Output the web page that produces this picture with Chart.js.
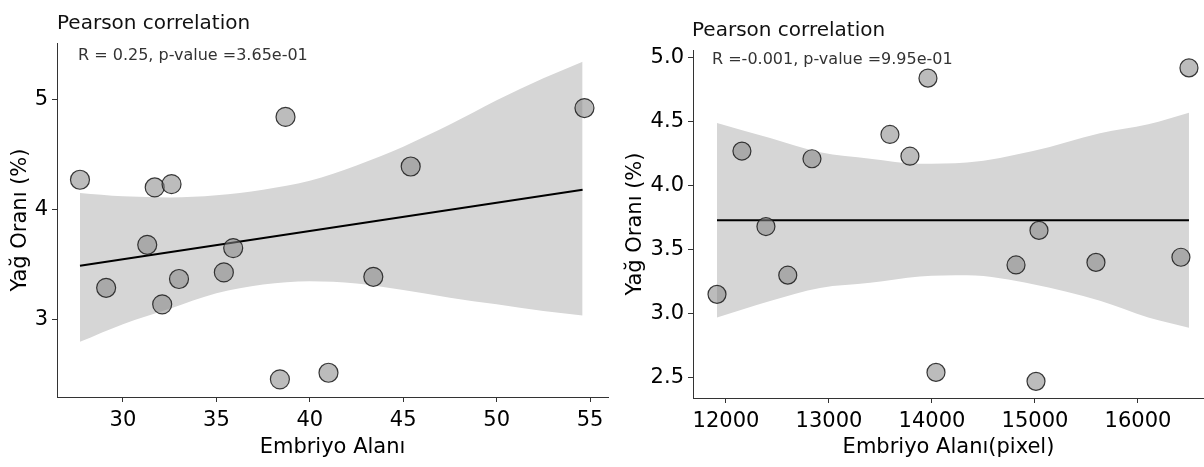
<!DOCTYPE html>
<html>
<head>
<meta charset="utf-8">
<script src="https://cdn.jsdelivr.net/npm/chart.js@4.4.0/dist/chart.umd.min.js"></script>
<style>
body{margin:0;background:#fff;width:1204px;height:467px;position:relative;overflow:hidden;font-family:'DejaVu Sans',sans-serif;}
canvas{position:absolute;top:0;}
#cLeft{left:0;}
#cRight{left:615px;}
.ttl{position:absolute;font-size:20px;line-height:20px;color:#111;white-space:nowrap;}
.ann{position:absolute;font-size:16px;line-height:16px;color:#333;white-space:nowrap;}
</style>
</head>
<body>
<canvas id="cLeft" width="615" height="467"></canvas>
<canvas id="cRight" width="589" height="467"></canvas>
<div class="ttl" style="left:57px;top:12px;">Pearson correlation</div>
<div class="ann" style="left:78px;top:47px;">R = 0.25, p-value =3.65e-01</div>
<div class="ttl" style="left:692px;top:19px;">Pearson correlation</div>
<div class="ann" style="left:712px;top:51px;">R =-0.001, p-value =9.95e-01</div>
<script>
// left panel: Embriyo Alanı vs Yağ Oranı
const leftX = [27.7, 29.1, 31.3, 31.7, 32.6, 32.1, 33.0, 35.4, 35.9, 38.4, 38.7, 41.0, 43.4, 45.4, 54.7];
const leftY = [4.27, 3.29, 3.68, 4.20, 4.23, 3.14, 3.37, 3.43, 3.65, 2.46, 4.84, 2.52, 3.39, 4.39, 4.92];
const leftFitX = [27.7, 54.6];
const leftFitY = [3.49, 4.18];
const leftBandX = [27.7, 30, 32.5, 35, 37.5, 40, 42.5, 45, 47.5, 50, 52.5, 54.6];
const leftUpper = [4.15, 4.12, 4.11, 4.13, 4.18, 4.26, 4.40, 4.57, 4.77, 4.99, 5.19, 5.34];
const leftLower = [2.80, 2.96, 3.10, 3.24, 3.32, 3.35, 3.33, 3.27, 3.20, 3.14, 3.08, 3.04];
const leftXTicks = [30, 35, 40, 45, 50, 55];
const leftYTicks = [3, 4, 5];

// right panel: Embriyo Alanı(pixel) vs Yağ Oranı
const rightX = [11913, 12155, 12388, 12600, 12835, 13592, 13786, 13961, 14039, 14816, 15010, 15039, 15592, 16417, 16495];
const rightY = [3.15, 4.27, 3.68, 3.30, 4.21, 4.40, 4.23, 4.84, 2.54, 3.38, 2.47, 3.65, 3.40, 3.44, 4.92];
const rightFitX = [11913, 16495];
const rightFitY = [3.73, 3.73];
const rightBandX = [11913, 12437, 12913, 13400, 13883, 14340, 14981, 15631, 16100, 16495];
const rightUpper = [4.49, 4.37, 4.26, 4.21, 4.17, 4.18, 4.27, 4.41, 4.48, 4.57];
const rightLower = [2.97, 3.10, 3.20, 3.24, 3.29, 3.30, 3.23, 3.10, 2.97, 2.89];
const rightXTicks = [12000, 13000, 14000, 15000, 16000];
const rightYTicks = [2.5, 3.0, 3.5, 4.0, 4.5, 5.0];

Chart.defaults.font.family = "'DejaVu Sans', sans-serif";

function toPts(xs, ys){
  return xs.map((v, i) => ({x: v, y: ys[i]}));
}

function makePanel(id, o){
  const axisGrid = {drawOnChartArea: false, drawTicks: true, tickLength: 5, color: '#333'};
  const axisBorder = {display: true, color: '#333', width: 1};
  return new Chart(document.getElementById(id), {
    type: 'scatter',
    data: {
      datasets: [
        {data: toPts(o.x, o.y), backgroundColor: 'rgba(133,133,133,0.55)', borderColor: 'rgba(25,25,25,0.85)',
         borderWidth: 1.2, pointRadius: o.r},
        {data: toPts(o.fitX, o.fitY), showLine: true, borderColor: '#000', borderWidth: 2, pointRadius: 0},
        {data: toPts(o.bandX, o.upper), showLine: true, borderColor: 'transparent', borderWidth: 0, pointRadius: 0,
         fill: '+1', backgroundColor: '#d6d6d6', cubicInterpolationMode: 'monotone'},
        {data: toPts(o.bandX, o.lower), showLine: true, borderColor: 'transparent', borderWidth: 0, pointRadius: 0,
         cubicInterpolationMode: 'monotone'}
      ]
    },
    options: {
      responsive: false,
      animation: false,
      // points may overhang the plot edge, no extra room for them
      layout: {padding: o.pad, autoPadding: false},
      plugins: {legend: {display: false}, tooltip: {enabled: false}},
      scales: {
        x: {
          type: 'linear', min: o.xMin, max: o.xMax,
          afterBuildTicks: s => { s.ticks = o.xTicks.map(v => ({value: v})); },
          afterFit: s => { s.height = o.xh; },
          grid: axisGrid, border: axisBorder,
          ticks: {color: '#000', font: {size: 21}, padding: 6, maxRotation: 0, callback: v => String(v)},
          title: {display: true, text: o.xTitle, color: '#000', font: {size: 21, lineHeight: 1}, padding: {top: 0, bottom: 9}}
        },
        y: {
          type: 'linear', min: o.yMin, max: o.yMax,
          afterBuildTicks: s => { s.ticks = o.yTicks.map(v => ({value: v})); },
          afterFit: s => { s.width = o.yw; },
          grid: axisGrid, border: axisBorder,
          ticks: {color: '#000', font: {size: 21}, padding: 4, callback: o.yFmt},
          title: {display: true, text: 'Yağ Oranı (%)', color: '#000', font: {size: 21, lineHeight: 1}, padding: {top: 10, bottom: 0}}
        }
      }
    }
  });
}

makePanel('cLeft', {
  x: leftX, y: leftY, fitX: leftFitX, fitY: leftFitY, bandX: leftBandX, upper: leftUpper, lower: leftLower,
  xTicks: leftXTicks, yTicks: leftYTicks, xMin: 26.47, xMax: 55.96, yMin: 2.30, yMax: 5.51,
  pad: {left: 0, top: 43, right: 7, bottom: 0}, xh: 70, yw: 57, r: 9.5,
  xTitle: 'Embriyo Alanı', yFmt: v => String(v)
});

makePanel('cRight', {
  x: rightX, y: rightY, fitX: rightFitX, fitY: rightFitY, bandX: rightBandX, upper: rightUpper, lower: rightLower,
  xTicks: rightXTicks, yTicks: rightYTicks, xMin: 11680, xMax: 16641, yMin: 2.34, yMax: 5.06,
  pad: {left: 0, top: 50, right: 0, bottom: 0}, xh: 69, yw: 78, r: 9,
  xTitle: 'Embriyo Alanı(pixel)', yFmt: v => v.toFixed(1)
});
</script>
</body>
</html>
